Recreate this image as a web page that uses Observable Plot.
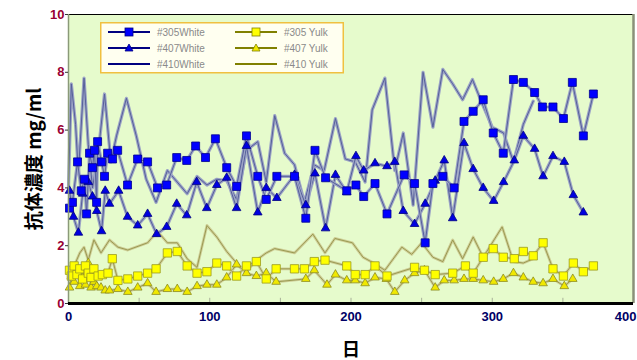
<!DOCTYPE html>
<html><head><meta charset="utf-8">
<script src="https://cdn.jsdelivr.net/npm/d3@7"></script>
<script src="https://cdn.jsdelivr.net/npm/@observablehq/plot@0.6"></script>
<style>
html,body{margin:0;padding:0;background:#fff;overflow:hidden;}
#wrap{position:relative;width:637px;height:360px;}
#legend{position:absolute;left:100px;top:22px;}
</style>
</head><body>
<div id="wrap"><div id="chart"></div><div id="legend"></div></div>
<script>
// ---- data (days, antibody concentration mg/ml) ----
const w305Day = [0.7,2.8,6.4,9,11.3,12.8,14.9,17,18.4,19.9,20.6,23.4,25.5,27.7,31.2,34.8,41.8,48.9,56,63,69.5,76.6,83.7,90,97,104,112,119,126,134,140,147.5,160,168,174.5,182,197,203.5,209,217,225.5,237.6,245,252.5,258,265,273,280,286.5,293.6,300.7,307.8,315,322,330,335.5,343,350.4,356.7,364.5,371.6];
const w305Val = [3.3,3.5,4.9,3.9,4.3,3.1,5.2,4.7,5.3,3.5,5.6,4.9,4.4,5.2,5.0,5.3,4.1,5.0,4.9,4.0,4.1,5.05,4.95,5.45,5.05,5.7,4.7,4.05,5.8,4.4,3.6,4.4,4.4,2.95,5.3,4.35,3.9,4.1,3.7,4.15,3.1,4.45,4.15,2.1,4.15,4.4,4.0,6.3,6.65,7.05,5.9,5.2,7.75,7.65,7.3,6.8,6.8,6.4,7.65,5.8,7.25];

const w407Day = [0.7,3.5,7,10,14,17,20,23.4,26,29,35.5,41.8,49,56,62.4,69.5,76.6,83.7,90.8,97.9,105,112,119,126,134,140,147.5,160,168,174.5,182,189,197,203.5,209,217,225.5,231,237,245,252.5,259.6,266,272,280,286.5,293.6,301,308,315.6,322,330,336,343,351,357.4,364.5];
const w407Val = [3.9,3.0,2.45,3.8,4.2,3.7,3.2,2.5,3.9,3.45,3.9,3.0,2.7,3.1,2.4,2.65,3.45,3.05,4.2,3.3,4.1,4.35,3.3,5.45,3.15,4.0,3.65,4.45,3.4,4.5,2.6,4.45,3.85,5.1,4.6,4.85,4.75,4.9,3.2,2.75,3.45,4.25,4.95,2.95,5.55,4.65,4.0,3.55,4.2,4.95,5.8,5.35,4.4,5.1,4.9,3.75,3.15];

const w410Day = [0,2,5,7,11,14,17,21,25.5,30,34,41,48,55,62,70,77,84,91,98,105,112,119,126,134,140,146,153,160,167,174,181,189,196,203,210,215,224,231,237,244,251,258,265,272,279,286,293,300,308,315,322,329];
const w410Val = [4.0,7.6,6.2,4.5,7.8,5.5,4.0,5.2,7.25,4.9,5.8,7.1,5.8,4.3,3.5,4.6,4.2,3.8,4.4,4.1,4.3,4.25,3.6,5.3,5.6,4.2,6.5,5.2,4.8,3.5,4.8,4.6,6.4,5.0,4.9,4.2,6.7,7.8,4.6,5.9,3.4,8.0,6.1,8.1,7.6,7.05,7.75,6.9,6.1,5.9,4.9,6.2,7.0];

const y305Day = [0.7,2,4,6,8,10,12,14,16,18,21,24,28,31,35,42,49,56,62,70,77,84,91,98,105,112,119,126,133,140,147,160,167,174,181.6,197,203,210,217,225.5,245,252,259.6,272,281,286.5,293.6,300.7,307.8,315.6,322,329,336,343,350.4,357.4,364.5,371.6];
const y305Val = [1.15,0.95,1.3,1.0,1.2,0.85,1.3,1.05,0.9,1.2,0.95,1.0,1.05,1.55,0.8,0.85,0.95,1.05,1.2,1.75,1.8,1.3,1.05,1.1,1.4,1.3,0.95,1.3,1.45,0.85,1.2,1.2,1.2,1.45,1.5,1.3,1.0,1.0,1.3,0.95,1.25,1.15,1.0,1.05,1.3,1.05,1.6,1.9,1.6,1.55,1.8,1.65,2.1,1.2,0.95,1.4,1.1,1.3];

const y407Day = [0.7,2,4,6,8,10,12,14,16,18,20,23,26,29,35,42,49,56,62,70,77,84,91,98,105,112,119,126,133,140,147,168,174,183,189,197,203,210,217,225,231,238,245,252,259.6,266,273,280,286.5,293.6,301,307.8,315,322,329,336,343,351,357];
const y407Val = [0.55,0.95,0.75,1.2,0.6,0.9,0.65,1.4,0.55,0.75,0.6,0.55,0.45,0.45,0.5,0.4,0.55,0.7,0.4,0.5,0.5,0.4,0.6,0.65,0.65,0.9,1.35,1.05,0.95,1.05,0.75,0.85,1.15,0.65,1.0,0.8,0.8,0.7,0.9,0.85,0.4,0.8,1.05,1.15,0.55,0.8,0.8,0.85,0.85,0.8,0.75,0.85,1.05,0.9,0.75,0.7,0.85,0.6,0.85];

const y410Day = [0,4,8,11,14,18,23,29,35,42,56,63,70,77,84,91,98,105,112,119,126,133,140,146,160,173,181.6,188.6,201,208.5,216,224,236,243,250,258,265,272,279,286.5,293.6,307,315,322,329];
const y410Val = [1.1,1.3,1.75,1.95,1.5,2.2,1.75,2.2,1.95,1.85,2.1,2.5,2.1,2.1,1.55,1.25,2.7,2.3,1.8,1.4,1.1,1.5,1.75,1.9,1.75,2.4,1.75,2.25,2.1,1.6,1.4,1.15,1.95,1.7,2.1,1.6,1.45,2.2,1.55,2.3,1.6,2.65,1.45,1.4,1.55];

const xTicks = [0,100,200,300];
const xTickLast = [400];
const yTicks = [0,2,4,6,8,10];
const minorX = [50,100,150,200,250,300,350];
const seriesNames = ["#305White","#407White","#410White","#305 Yulk","#407 Yulk","#410 Yulk"];

const mk = (days, vals) => days.map((d,i)=>({day:d, val:vals[i]}));
const w305 = mk(w305Day,w305Val), w407 = mk(w407Day,w407Val), w410 = mk(w410Day,w410Val);
const y305 = mk(y305Day,y305Val), y407 = mk(y407Day,y407Val), y410 = mk(y410Day,y410Val);

const WO="#9ca4c6", WI="#56609a", YO="#cfcf98", YI="#94944a";
const lineW = d => [Plot.line(d,{x:"day",y:"val",stroke:WO,strokeWidth:3.2}), Plot.line(d,{x:"day",y:"val",stroke:WI,strokeWidth:1})];
const lineY = d => [Plot.line(d,{x:"day",y:"val",stroke:YO,strokeWidth:2.8}), Plot.line(d,{x:"day",y:"val",stroke:YI,strokeWidth:0.9})];

const jp = "'Noto Sans CJK JP', sans-serif";
const chart = Plot.plot({
  width:637, height:360,
  marginLeft:68, marginRight:4, marginTop:14, marginBottom:57,
  x:{domain:[0,400]}, y:{domain:[0,10]},
  style:{background:"transparent", fontFamily:"Arial, 'Liberation Sans', sans-serif"},
  marks:[
    Plot.frame({fill:"#e6fbcc", stroke:"none"}),
    Plot.ruleX(minorX,{y1:0,y2:0.18,stroke:"#a8b098",strokeWidth:1}),
    ...lineY(y410), ...lineY(y407), ...lineY(y305),
    ...lineW(w410), ...lineW(w407), ...lineW(w305),
    Plot.dot(y407,{x:"day",y:"val",symbol:"triangle",r:3.2,fill:"#f0e800",stroke:"#8c8c20",strokeWidth:0.8}),
    Plot.dot(y305,{x:"day",y:"val",symbol:"square",r:4.7,fill:"#ffff00",stroke:"#9a9a20",strokeWidth:0.8}),
    Plot.dot(w407,{x:"day",y:"val",symbol:"triangle",r:3.2,fill:"#0000e0",stroke:"#000080",strokeWidth:0.8}),
    Plot.dot(w305,{x:"day",y:"val",symbol:"square",r:4.5,fill:"#0000ff",stroke:"#000090",strokeWidth:0.8}),
    Plot.ruleY([10],{stroke:"#000",strokeWidth:1.2}),
    Plot.ruleX([0],{stroke:"#8a9a78",strokeWidth:1.5}),
    Plot.ruleX([400],{stroke:"#8a9078",strokeWidth:2.5}),
    Plot.ruleY([0],{stroke:"#000",strokeWidth:3}),
    Plot.axisY(yTicks,{tickSize:3,tickPadding:1,fill:"#990033",stroke:"#333",fontWeight:"bold",fontSize:13,label:null}),
    Plot.axisX(xTicks,{tickSize:0,tickPadding:8,fill:"#000066",fontWeight:"bold",fontSize:13,label:null}),
    Plot.axisX(xTickLast,{tickSize:0,tickPadding:8,textAnchor:"end",dx:3,fill:"#000066",fontWeight:"bold",fontSize:13,label:null}),
    Plot.text(["抗体濃度 mg/ml"],{frameAnchor:"left",textAnchor:"middle",lineAnchor:"middle",dx:-34,rotate:-90,fontSize:19,fontWeight:"bold",fill:"#000",fontFamily:jp}),
    Plot.text(["日"],{frameAnchor:"bottom",lineAnchor:"middle",dy:47,fontSize:18,fontWeight:"bold",fill:"#000",fontFamily:jp})
  ]
});
document.getElementById("chart").appendChild(chart);

// ---- legend ----
const lg = d3.select("#legend").append("svg").attr("width",244).attr("height",52).style("display","block");
lg.append("rect").attr("x",0.75).attr("y",0.75).attr("width",242.5).attr("height",50).attr("fill","#fffff0").attr("stroke","#f0c040").attr("stroke-width",1.5);
const items = seriesNames.map((n,i)=>({name:n,col:Math.floor(i/3),row:i%3,white:i<3}));
const g = lg.selectAll("g").data(items).join("g").attr("transform",d=>`translate(${d.col?135:8},${10+d.row*16})`);
g.append("line").attr("x1",0).attr("x2",42).attr("y1",0).attr("y2",0).attr("stroke",d=>d.white?"#000080":"#808000").attr("stroke-width",2);
g.filter(d=>d.row===0).append("rect").attr("x",17).attr("y",-4).attr("width",8).attr("height",8).attr("fill",d=>d.white?"#0000ff":"#ffff00").attr("stroke",d=>d.white?"#000080":"#808000").attr("stroke-width",0.8);
g.filter(d=>d.row===1).append("path").attr("d","M21,-4L25,3L17,3Z").attr("fill",d=>d.white?"#0000e0":"#f0e800").attr("stroke",d=>d.white?"#000080":"#808000").attr("stroke-width",0.8);
g.append("text").attr("x",49).attr("y",0).attr("dy","0.35em").attr("font-size",10).attr("font-family","Arial, 'Liberation Sans', sans-serif").attr("fill","#8a8a8a").text(d=>d.name);
</script>
</body></html>
